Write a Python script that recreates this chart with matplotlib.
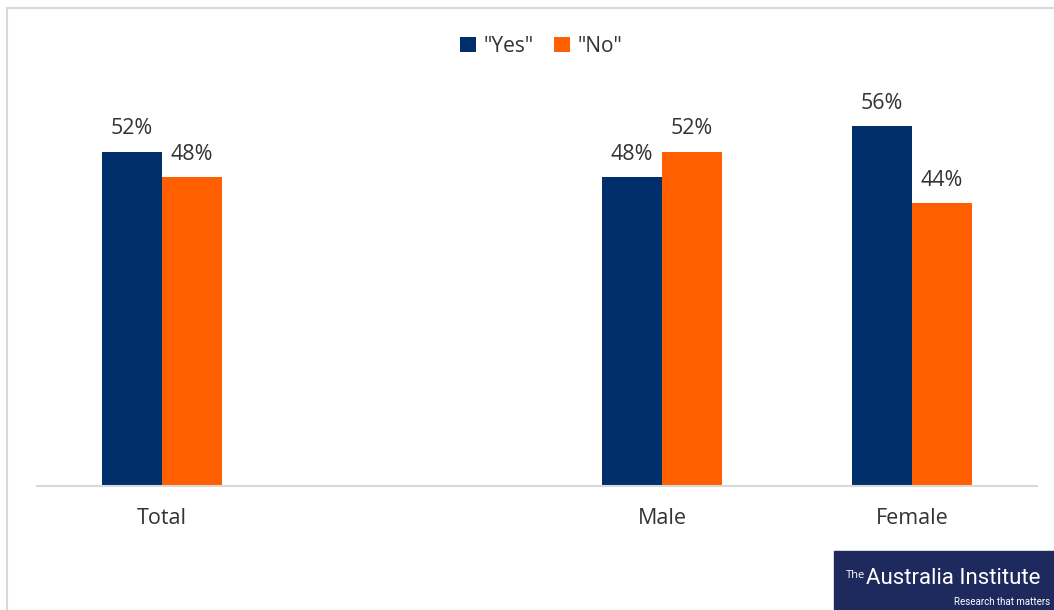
import matplotlib.pyplot as plt
from matplotlib.patches import Rectangle
import numpy as np

categories = ["Total", "", "Male", "Female"]
yes_vals = [52, None, 48, 56]
no_vals = [48, None, 52, 44]

YES_COLOR = "#002F6C"
NO_COLOR = "#FF5F00"
TEXT = "#333333"

plt.rcParams['font.family'] = ['Open Sans', 'DejaVu Sans']

W, H = 1054, 610
fig = plt.figure(figsize=(W / 100, H / 100), dpi=100)

# light grey frame around the chart area
fig.patches.append(Rectangle((7 / W, -0.05), 1.1, (H - 8) / H + 0.05,
                             transform=fig.transFigure, fill=False,
                             edgecolor="#D9D9D9", linewidth=1.5))

ax = fig.add_axes([37 / W, (H - 486) / H, 1000 / W, 418 / H])

x = np.arange(len(categories))
bw = 0.24
for i, (y, n) in enumerate(zip(yes_vals, no_vals)):
    if y is None:
        continue
    ax.bar(x[i] - bw / 2, y, bw, color=YES_COLOR, label='"Yes"' if i == 0 else None)
    ax.bar(x[i] + bw / 2, n, bw, color=NO_COLOR, label='"No"' if i == 0 else None)
    ax.text(x[i] - bw / 2, y + 1.9, f"{y}%", ha="center", va="bottom",
            fontsize=15.5, color=TEXT)
    ax.text(x[i] + bw / 2, n + 1.9, f"{n}%", ha="center", va="bottom",
            fontsize=15.5, color=TEXT)

ax.set_xlim(-0.5, 3.5)
ax.set_ylim(0, 65)
ax.set_xticks(x)
ax.set_xticklabels(categories, fontsize=15.5, color=TEXT)
ax.tick_params(axis="x", length=0, pad=16)
ax.set_yticks([])
for s in ["top", "right", "left"]:
    ax.spines[s].set_visible(False)
ax.spines["bottom"].set_color("#D9D9D9")
ax.spines["bottom"].set_linewidth(1.5)

fig.legend(loc="center", bbox_to_anchor=(541 / W, 1 - 46 / H), ncol=2,
           frameon=False, fontsize=15, handlelength=0.75, handleheight=0.75,
           columnspacing=1.0, handletextpad=0.35, labelcolor=TEXT)

# logo block
fig.patches.append(Rectangle((834 / W, 0), (W - 834) / W, 59 / H,
                             transform=fig.transFigure, color="#1E2A5E"))
fig.text(846 / W, 1 - 575 / H, "The", color="white", fontsize=8,
         ha="left", va="center")
fig.text(866 / W, 1 - 578 / H, "Australia Institute", color="white",
         fontsize=16, ha="left", va="center", family="Roboto")
fig.text(1050 / W, 1 - 602 / H, "Research that matters", color="white",
         fontsize=7, ha="right", va="center", family="Roboto")

fig.savefig("out.png", dpi=100)
